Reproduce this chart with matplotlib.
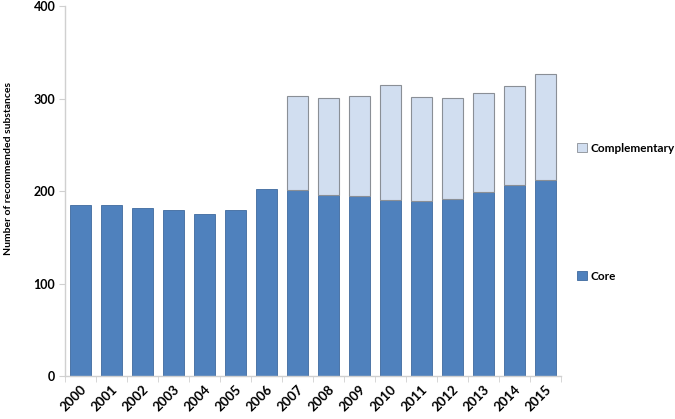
import numpy as np
from matplotlib import pyplot as plt
from matplotlib.patches import Patch

years = [str(y) for y in range(2000, 2016)]
core = [185, 185, 182, 179, 175, 179, 202, 201, 196, 195, 190, 189, 191, 199, 207, 212]
complementary = [0, 0, 0, 0, 0, 0, 0, 102, 105, 108, 125, 113, 110, 107, 107, 115]

core_color = '#4F81BD'
comp_color = '#D1DEF0'

plt.rcParams['font.family'] = ['Lato', 'DejaVu Sans']
plt.rcParams['font.weight'] = 'bold'

fig = plt.figure(figsize=(6.75, 4.19), dpi=100)
ax = fig.add_axes([0.0963, 0.1026, 0.7347, 0.883])

x = np.arange(len(years))
ax.bar(x, core, width=0.65, color=core_color, edgecolor='#3F6A9E', linewidth=0.6, zorder=2)
comp = np.array(complementary)
mask = comp > 0
ax.bar(x[mask], comp[mask], width=0.65, bottom=np.array(core)[mask],
       color=comp_color, edgecolor='#8A8F96', linewidth=0.8, zorder=2)

ax.set_xlim(-0.5, len(years) - 0.5)
ax.set_ylim(0, 400)
ax.set_yticks([0, 100, 200, 300, 400])
ax.set_yticklabels(['0', '100', '200', '300', '400'], fontsize=9, fontweight='bold')

ax.set_xticks(x)
ax.set_xticklabels(years, rotation=45, ha='right', rotation_mode='anchor',
                   fontsize=9.5, fontweight='bold')
ax.tick_params(axis='x', length=0, pad=5)
ax.set_xticks(np.arange(-0.5, len(years)), minor=True)
ax.tick_params(axis='x', which='minor', length=4, color='#D0D0D0', direction='out')
ax.tick_params(axis='y', length=4, color='#D0D0D0', direction='out', pad=3)

for s in ['top', 'right']:
    ax.spines[s].set_visible(False)
for s in ['left', 'bottom']:
    ax.spines[s].set_color('#D0D0D0')
    ax.spines[s].set_linewidth(1.0)

ax.set_ylabel('Number of recommended substances', fontsize=7.5, fontweight='bold')
ax.yaxis.set_label_coords(-0.105, 0.562)

leg_kw = dict(loc='center left', frameon=False, fontsize=8.5, handlelength=0.8,
              handleheight=0.8, handletextpad=0.3, borderpad=0.2, borderaxespad=0)
fig.legend(handles=[Patch(facecolor=comp_color, edgecolor='#8A8F96', linewidth=0.6)],
           labels=['Complementary'], bbox_to_anchor=(0.852, 1 - 148 / 419), **leg_kw)
fig.legend(handles=[Patch(facecolor=core_color, edgecolor='#3F6A9E', linewidth=0.6)],
           labels=['Core'], bbox_to_anchor=(0.852, 1 - 276 / 419), **leg_kw)

fig.savefig('out.png', dpi=100)
